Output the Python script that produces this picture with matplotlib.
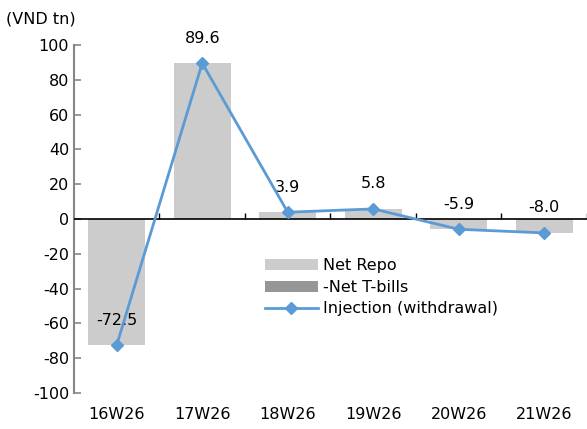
import matplotlib.pyplot as plt
import numpy as np

# 数据
weeks = ['16W26', '17W26', '18W26', '19W26', '20W26', '21W26']
net_repo = [-72.5, 89.6, 3.9, 5.8, -5.9, -8.0]
net_tbills = [0.0, 0.0, 0.0, 0.0, 0.0, 0.0]
injection = [r + t for r, t in zip(net_repo, net_tbills)]

plt.rcParams['font.family'] = 'DejaVu Sans'
plt.rcParams['font.size'] = 11.5
plt.rcParams['axes.unicode_minus'] = False

fig = plt.figure(figsize=(5.87, 4.29), dpi=100)
ax = fig.add_axes([0.126, 0.084, 0.874, 0.811])

x = np.arange(len(weeks))
b1 = ax.bar(x, net_repo, width=0.67, color='#cccccc', label='Net Repo')
b2 = ax.bar(x, net_tbills, width=0.67, bottom=net_repo, color='#969696', label='-Net T-bills')
l1, = ax.plot(x, injection, color='#5b9bd5', lw=2, marker='D', markersize=6,
              label='Injection (withdrawal)', zorder=4)

# 数据标签
for xi, v in zip(x, injection):
    ax.annotate(f'{v:.1f}', (xi, v), xytext=(0, 18), textcoords='offset points',
                ha='center', va='center')

ax.set_xlim(-0.5, 5.5)
ax.set_ylim(-100, 100)
ax.set_yticks(range(-100, 101, 20))
ax.set_xticks(x, weeks)

for s in ['top', 'right', 'bottom']:
    ax.spines[s].set_visible(False)
ax.spines['left'].set_color('#868686')
ax.spines['left'].set_linewidth(1.5)
ax.tick_params(axis='y', direction='in', length=5, color='#868686', width=1.2)
ax.tick_params(axis='x', length=0, pad=10)

# 零线及分类刻度(朝上)
ax.axhline(0, color='black', lw=1.2, zorder=3)
ax.vlines(np.arange(0.5, 6, 1), 0, 3.2, color='black', lw=1, zorder=3)

ax.legend([b1, b2, l1], ['Net Repo', '-Net T-bills', 'Injection (withdrawal)'],
          loc='upper left', bbox_to_anchor=(0.36, 0.405), frameon=False,
          handlelength=3.3, handletextpad=0.35, labelspacing=0.4,
          borderaxespad=0)

fig.text(0.01, 0.955, '(VND tn)', ha='left', va='center')

plt.savefig('out.png', dpi=100)
